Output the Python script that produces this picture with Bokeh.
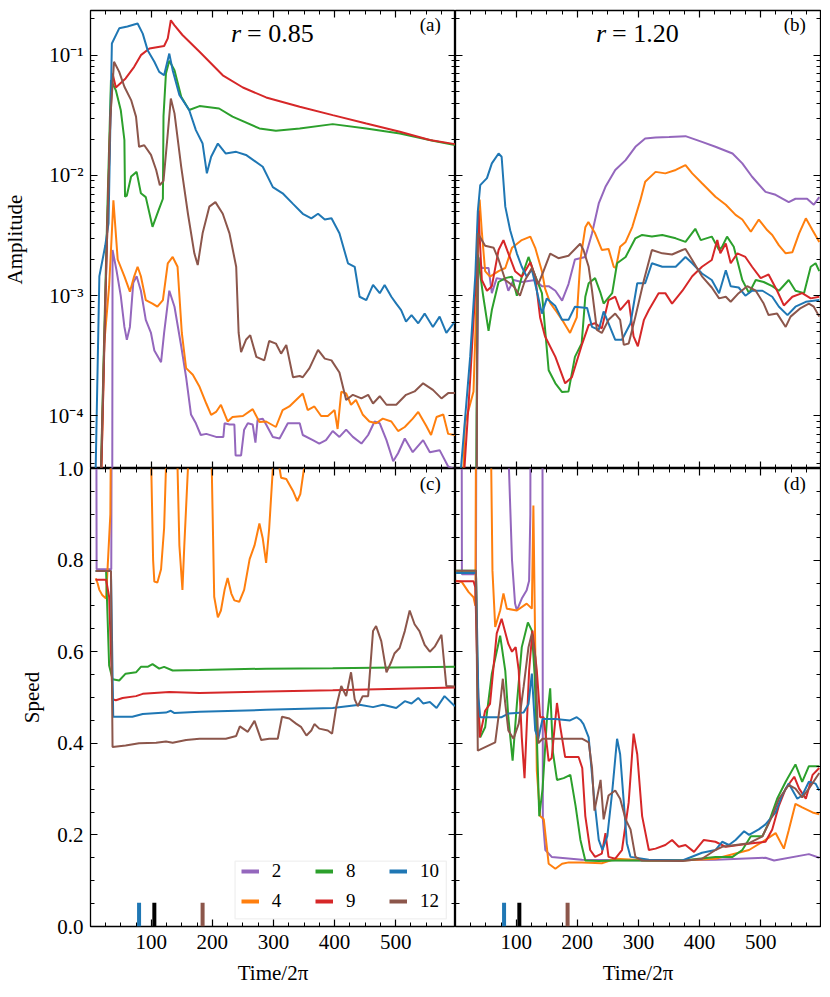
import numpy as np
from bokeh.plotting import figure
from bokeh.models import (LinearAxis, LogAxis, SingleIntervalTicker, LogTicker,
                          CustomJSTickFormatter, PrintfTickFormatter, Range1d,
                          Label, Legend, LegendItem, BoxAnnotation)
from bokeh.layouts import column, row
from bokeh.embed import file_html
from bokeh.resources import INLINE

FONT = "'Liberation Serif', serif"
OFF = 1.6  # speed value beyond the top of the axis

modes = ["2", "4", "8", "9", "10", "12"]
mode_colors = ["#9467bd", "#ff7f0e", "#2ca02c", "#d62728", "#1f77b4", "#8c564b"]

r_values = ["0.85", "1.20"]
panel_letters = ["(a)", "(b)", "(c)", "(d)"]

marker_times = [80, 105, 184]
marker_colors = ["#1f77b4", "#000000", "#8c564b"]
marker_height = 0.052

# ---------------- (a) amplitude, r = 0.85 : (time/2pi, amplitude)
a_n2 = [(1, 1e-7), (35.8, 1e-6), (36.6, 2.4e-3), (43, 1.63e-3), (50, 1.0e-3), (56, 5.5e-4), (60, 4.3e-4),
        (65, 5.5e-4), (70.5, 1.28e-3), (76, 1.45e-3), (83, 1.1e-3), (91, 6.3e-4), (99.5, 4.9e-4), (105, 3.5e-4),
        (116, 2.8e-4), (121, 4.9e-4), (129.5, 1.1e-3), (138, 8.1e-4), (149, 3.8e-4), (157, 2.1e-4), (165, 1.03e-4),
        (173, 8.7e-5), (181, 6.95e-5), (190, 7.1e-5), (206, 6.7e-5), (218, 6.7e-5), (220, 8.7e-5), (228, 8.5e-5),
        (236, 8.5e-5), (238, 4.7e-5), (247, 4.7e-5), (252, 7.7e-5), (258, 8.7e-5), (266, 8.5e-5), (270.5, 6e-5),
        (274, 9.3e-5), (282.5, 9.5e-5), (288, 8.5e-5), (299, 6.7e-5), (310, 6.5e-5), (323.5, 8.7e-5), (343, 8.7e-5),
        (348, 6.95e-5), (364.5, 6.3e-5), (375, 5.9e-5), (386, 6.3e-5), (397, 7.5e-5), (408, 6.7e-5), (419, 7.7e-5),
        (430, 6.7e-5), (444, 5.9e-5), (455, 6.95e-5), (465.5, 9e-5), (474, 8.7e-5), (485, 6.3e-5), (496, 4.2e-5),
        (504, 4.9e-5), (515, 6.5e-5), (528, 5e-5), (545, 6.3e-5), (556, 5e-5), (572, 5.2e-5), (586, 3.8e-5),
        (597, 3.6e-5)]
a_n4 = [(1, 1e-7), (15, 1e-5), (20, 8e-5), (23, 4e-4), (31, 1.2e-3), (35, 3e-3), (38, 6.2e-3), (45, 2e-3),
        (56, 1.45e-3), (65, 1.08e-3), (72, 1.45e-3), (77.6, 1.74e-3), (83, 1.45e-3), (91, 9.2e-4), (102, 8.6e-4),
        (110, 8.1e-4), (119, 9.2e-4), (127, 1.86e-3), (135, 2.1e-3), (143, 1.74e-3), (150, 4.9e-4), (157, 2.5e-4),
        (168, 2.2e-4), (179, 1.75e-4), (190, 1.27e-4), (198, 1.02e-4), (206, 1.08e-4), (214, 1.24e-4), (225, 9e-5),
        (233, 9.8e-5), (250, 1.0e-4), (266, 1.14e-4), (277, 8.9e-5), (288, 9e-5), (304, 8.1e-5), (315, 1.12e-4),
        (326, 1.2e-4), (337, 1.36e-4), (348, 1.54e-4), (356, 1.12e-4), (367, 1.2e-4), (378, 1.0e-4), (389, 1.0e-4),
        (400, 1.12e-4), (405, 7.8e-5), (411, 1.59e-4), (419, 1.54e-4), (427, 1.24e-4), (435, 1.36e-4),
        (446, 1.03e-4), (457, 9e-5), (468, 8.7e-5), (479, 9.5e-5), (493, 9e-5), (504, 7.5e-5), (515, 8.1e-5),
        (528, 9.5e-5), (537, 1.08e-4), (550, 8.3e-5), (558, 6.95e-5), (567, 9.8e-5), (578, 1.03e-4), (586, 7.1e-5),
        (597, 6.95e-5)]
a_n8 = [(1, 1e-7), (15, 1e-5), (22, 3e-4), (28, 5e-3), (34, 0.062), (42, 0.051), (50, 0.035), (56, 0.0197),
        (57, 0.00665), (60, 0.0068), (67, 0.0098), (76, 0.0107), (83, 0.0071), (91, 0.0066), (102, 0.00374),
        (112, 0.00515), (119, 0.0064), (120, 0.031), (124, 0.0705), (129.5, 0.0897), (138, 0.075), (149, 0.045),
        (162, 0.035), (179, 0.0377), (211, 0.036), (233, 0.0308), (277, 0.0246), (304, 0.0235), (343, 0.0246),
        (397, 0.0267), (452, 0.0246), (507, 0.0223), (561, 0.0194), (597, 0.0179)]
a_n9 = [(1, 1e-7), (12, 1e-6), (18, 3e-5), (26, 1.5e-3), (33, 0.03), (36.6, 0.0705), (42, 0.0538), (58, 0.064),
        (72, 0.080), (83, 0.100), (97, 0.1135), (121, 0.119), (127, 0.138), (132, 0.195), (138, 0.177),
        (151, 0.147), (179, 0.1066), (217, 0.068), (250, 0.0538), (288, 0.0445), (343, 0.0372), (397, 0.0317),
        (452, 0.027), (507, 0.0231), (556, 0.0197), (597, 0.0182)]
a_n10 = [(1, 1e-6), (9, 3.7e-5), (15, 1.45e-3), (24.6, 2.6e-3), (30, 4e-3), (35.5, 0.125), (47.5, 0.167),
         (61, 0.173), (77.6, 0.183), (86, 0.151), (94, 0.110), (105, 0.088), (113, 0.0726), (121, 0.068),
         (129.5, 0.103), (135, 0.075), (146, 0.0466), (162, 0.035), (173, 0.0238), (184, 0.0184), (191, 0.0104),
         (198, 0.0143), (209, 0.0184), (222, 0.0152), (239, 0.0157), (255, 0.0148), (282.5, 0.0118), (299, 0.008),
         (315, 0.0071), (332, 0.0058), (348, 0.0048), (362, 0.0044), (373, 0.0048), (384, 0.0043), (395, 0.0044),
         (408, 0.0033), (422, 0.00186), (433, 0.00174), (441, 9.8e-4), (452, 9.2e-4), (463, 1.23e-3),
         (474, 1.05e-3), (482, 1.23e-3), (493, 9.8e-4), (501, 8.6e-4), (509, 7.6e-4), (517, 6.1e-4), (526, 6.9e-4),
         (537, 5.9e-4), (547.5, 7.1e-4), (561, 5.5e-4), (572, 6.7e-4), (583, 4.9e-4), (597, 6.1e-4)]
a_n12 = [(1, 1e-7), (15, 1e-5), (25, 1e-3), (33, 0.03), (39, 0.088), (47.5, 0.0726), (56, 0.0546), (67, 0.0423),
         (75, 0.0308), (80, 0.0173), (88.5, 0.0178), (99.5, 0.0148), (108, 0.0111), (114, 0.0083), (120, 0.009),
         (127, 0.0223), (132, 0.0436), (138, 0.0328), (149, 0.0118), (160, 0.0048), (170.5, 2.25e-3),
         (176, 1.8e-3), (184, 3.3e-3), (195, 5.5e-3), (205, 6.0e-3), (217, 4.8e-3), (228, 3.3e-3), (239, 1.74e-3),
         (243, 4.9e-4), (247, 3.4e-4), (255, 4.3e-4), (262, 4.7e-4), (272, 3.1e-4), (285, 2.9e-4), (293, 4.2e-4),
         (304, 4.0e-4), (312.5, 3.3e-4), (321, 3.9e-4), (332, 2.1e-4), (343, 2.15e-4), (348, 2.1e-4),
         (359, 2.5e-4), (373, 3.55e-4), (384, 3.0e-4), (395, 2.9e-4), (408, 2.3e-4), (419, 1.36e-4), (430, 1.5e-4),
         (444, 1.4e-4), (455, 1.5e-4), (463, 1.27e-4), (474, 1.46e-4), (485, 1.24e-4), (501, 1.24e-4),
         (517, 1.5e-4), (531, 1.6e-4), (545, 1.87e-4), (561, 1.65e-4), (575, 1.4e-4), (586, 1.55e-4),
         (597, 1.55e-4)]

# ---------------- (b) amplitude, r = 1.20
b_n2 = [(1, 1e-7), (34.5, 1e-6), (35.5, 1e-4), (38, 2.1e-3), (43.6, 1.7e-3), (54.6, 1.7e-3), (60, 1.05e-3),
        (68, 1.4e-3), (82, 1.35e-3), (87, 1.1e-3), (95.5, 1.35e-3), (109, 1.3e-3), (131, 1.35e-3), (142, 1.2e-3),
        (153, 1.2e-3), (164, 1.1e-3), (175, 9.1e-4), (185.5, 1.25e-3), (196, 2.0e-3), (213, 2.1e-3),
        (224, 3.3e-3), (235, 5.85e-3), (246, 8.05e-3), (262, 0.0111), (279, 0.0134), (295, 0.0173),
        (311, 0.0203), (328, 0.0207), (350, 0.0209), (377, 0.0212), (404, 0.019), (426, 0.0173), (454, 0.0152),
        (470, 0.0126), (486, 0.00975), (508, 0.0073), (524.5, 0.0069), (546, 0.006), (557, 0.0064),
        (576, 0.0064), (587, 0.0057), (596, 0.0066)]
b_n4 = [(1, 1e-7), (10, 1e-5), (16, 8.7e-5), (30, 1.6e-4), (35, 1e-3), (40, 6.3e-3), (43.6, 3.4e-3), (49, 1.6e-3),
        (57, 1.44e-3), (71, 1.6e-3), (82, 1.7e-3), (93, 2.5e-3), (109, 2.9e-3), (123, 3.1e-3), (131, 2.5e-3),
        (142, 1.6e-3), (147, 1.15e-3), (155.5, 8.7e-4), (164, 7.6e-4), (175, 6.3e-4), (188, 4.9e-4),
        (199, 6.6e-4), (205, 2.0e-3), (213, 3.7e-3), (218, 4.1e-3), (229, 3.3e-3), (240, 2.4e-3), (251, 2.45e-3),
        (259.5, 1.74e-3), (263, 1.7e-3), (270, 2.55e-3), (279, 2.8e-3), (290, 3.74e-3), (303, 6.2e-3),
        (311, 8.85e-3), (328, 0.0107), (344, 0.0104), (361, 0.0111), (377, 0.0122), (388, 0.0104), (404, 8.6e-3),
        (426, 6.65e-3), (443, 5.7e-3), (459, 4.7e-3), (470, 4.3e-3), (484, 3.4e-3), (497, 4.3e-3), (511, 3.5e-3),
        (519, 3.2e-3), (530, 2.62e-3), (541, 2.25e-3), (552, 2.3e-3), (563, 3.3e-3), (574, 4.4e-3),
        (585, 3.5e-3), (596, 2.8e-3)]
b_n8 = [(1, 1e-7), (33, 1e-6), (35, 1e-4), (37, 2.2e-3), (41, 1.5e-3), (46, 9.8e-4), (54.6, 5.1e-4),
        (60, 7.6e-4), (71, 1.3e-3), (82, 1.4e-3), (93, 1.44e-3), (101, 1.0e-3), (109, 1.44e-3), (120, 2.1e-3),
        (128, 1.6e-3), (142, 1.05e-3), (153, 2.4e-4), (164, 1.87e-4), (175, 1.58e-4), (185.5, 1.6e-4),
        (196, 3.1e-4), (207, 4.0e-4), (213, 9.8e-4), (218.5, 1.27e-3), (229, 1.4e-3),
        (238, 1.05e-3), (243, 8.6e-4), (257, 1.05e-3), (265, 1.86e-3), (279, 2.1e-3), (295, 3.0e-3),
        (306, 3.2e-3), (322, 3.1e-3), (339, 3.2e-3), (361, 3.0e-3), (377, 2.8e-3), (393, 3.6e-3), (402, 2.9e-3),
        (420, 3.1e-3), (432, 2.4e-3), (437, 2.55e-3), (445, 3.1e-3), (456, 2.55e-3), (470, 1.35e-3),
        (481, 1.05e-3), (492, 1.35e-3), (505, 1.3e-3), (519, 1.2e-3), (530, 1.1e-3), (546, 1.35e-3),
        (557, 1.1e-3), (571, 1.05e-3), (582, 1.74e-3), (590, 1.86e-3), (596, 1.6e-3)]
b_n9 = [(1, 1e-6), (14, 3e-5), (24.5, 2e-4), (35.5, 1.9e-3), (38, 5.1e-3), (43.6, 1.35e-3), (52, 1.1e-3),
        (60, 1.2e-3), (71, 2.4e-3), (79, 2.9e-3), (87, 2.25e-3), (98, 1.6e-3), (109, 1.44e-3), (123, 1.9e-3),
        (131, 1.44e-3), (139, 6.6e-4), (147, 4.6e-4), (164, 3.1e-4), (180, 1.87e-4), (191, 2.1e-4),
        (208, 4.0e-4), (218.5, 5.7e-4),
        (229, 5.9e-4), (240, 5.35e-4), (251, 9.2e-4), (262, 9.8e-4), (270, 7.6e-4), (284, 9.2e-4), (292, 4.6e-4),
        (299, 3.8e-4), (309, 6.3e-4), (317, 7.6e-4), (333, 1.05e-3), (344, 1.05e-3), (355, 8.6e-4),
        (372, 1.1e-3), (388, 1.45e-3), (404, 1.74e-3), (420, 1.98e-3), (429, 2.9e-3), (434, 2.25e-3),
        (443, 2.72e-3), (451, 1.86e-3), (462, 2.25e-3), (475, 2.1e-3), (486, 1.74e-3), (500, 1.4e-3),
        (513, 1.5e-3), (527, 1.1e-3), (538, 8.3e-4), (552, 9.8e-4), (568, 1.05e-3), (582, 9.5e-4),
        (596, 9.8e-4)]
b_n10 = [(1, 1e-6), (8, 3e-5), (16, 9.3e-5), (24.5, 3.1e-4), (33, 1.5e-3), (37, 5e-3), (41, 8.3e-3), (52, 9.5e-3),
         (60, 0.0126), (71, 0.0152), (76, 0.0143), (82, 5.5e-3), (90, 3.5e-3), (101, 2.24e-3), (109, 1.74e-3),
         (117, 1.44e-3), (125.5, 1.65e-3), (133.6, 1.1e-3), (142, 7.1e-4), (150, 9.5e-4),
         (164, 8.2e-4), (175, 6.3e-4), (185.5, 6.3e-4), (196, 8.1e-4), (216, 7.9e-4), (224, 5.5e-4),
         (235, 5.2e-4), (243, 7.4e-4), (251, 5.9e-4), (262, 4.3e-4), (273, 4.3e-4), (287, 5.9e-4),
         (298, 1.27e-3), (311, 1.27e-3), (322, 1.86e-3), (339, 1.74e-3), (361, 1.74e-3), (377, 2.1e-3),
         (388, 1.86e-3), (404, 1.53e-3), (420, 1.35e-3), (432, 1.05e-3), (443, 1.63e-3), (451, 1.2e-3),
         (464, 1.17e-3), (475, 1.0e-3), (486, 1.1e-3), (503, 1.1e-3), (519, 9.8e-4), (530, 8.1e-4),
         (544, 6.9e-4), (557, 8.1e-4), (574, 8.9e-4), (596, 9.2e-4)]
b_n12 = [(1, 1e-7), (34.5, 1e-6), (35.5, 1e-4), (37, 3.3e-3), (49, 2.6e-3), (63, 2.5e-3), (71, 2.0e-3),
         (82, 1.35e-3), (95.5, 1.2e-3), (106, 1.0e-3), (114.5, 1.35e-3), (125.5, 1.7e-3), (136, 1.25e-3),
         (144.6, 1.6e-3), (155.5, 2.24e-3), (169, 2.05e-3), (185.5, 2.15e-3), (204.6, 2.7e-3),
         (210, 2.4e-3), (218.5, 1.74e-3), (224, 1.1e-3), (232, 5.2e-4), (240, 4.9e-4),
         (251, 6.3e-4), (262, 7.1e-4), (270, 6.3e-4), (276, 3.9e-4), (284, 4.0e-4), (295, 6.7e-4),
         (309, 1.35e-3), (322, 2.4e-3), (339, 2.25e-3), (355, 2.2e-3), (372, 2.4e-3), (377, 2.45e-3),
         (388, 1.98e-3), (404, 1.45e-3), (420, 1.17e-3), (432, 9.5e-4), (443, 9.8e-4), (451, 8.9e-4),
         (464, 1.05e-3), (478, 1.2e-3), (492, 1.1e-3), (505, 8.6e-4), (513, 6.9e-4), (527, 7.1e-4),
         (541, 5.5e-4), (549, 6.7e-4), (565.5, 7.9e-4), (579, 8.6e-4), (587, 8.1e-4), (596, 6.7e-4)]

# ---------------- (c) speed, r = 0.85
c_n2 = [(9.5, OFF), (10.5, 0.78), (34.5, 0.78), (36, OFF), (597, OFF)]
c_n4 = [(9, 0.76), (12, 0.75), (15, 0.735), (20, 0.723), (26, 0.716), (28, 0.77), (33, 0.9), (36.6, OFF),
        (97, OFF), (100, 1.0), (103, 0.8), (105, 0.753), (110, 0.751), (116, 0.78), (121, 0.87), (124, 1.0),
        (126, OFF), (140, OFF), (143, 1.0), (146, 0.832), (151, 0.735), (154, 0.83), (160, 1.0), (162, OFF),
        (196, OFF), (199, 1.0), (203, 0.72), (209, 0.675), (214, 0.69), (220, 0.735), (225, 0.761), (231, 0.727),
        (236, 0.712), (244, 0.709), (252, 0.735), (261, 0.802), (269, 0.832), (277, 0.88), (282.5, 0.847),
        (288, 0.794), (293, 0.869), (299, 1.0), (302, OFF), (309, OFF), (310, 1.0), (312.5, 0.98), (321, 0.977),
        (332, 0.951), (339, 0.929), (344, 0.944), (350, 1.0), (352, OFF), (597, OFF)]
c_n8 = [(9, 0.776), (26, 0.776), (31, 0.57), (36.6, 0.54), (47.5, 0.537), (58, 0.552), (75, 0.555), (83, 0.567),
        (94, 0.567), (102, 0.573), (113, 0.563), (121, 0.567), (135, 0.559), (179, 0.56), (288, 0.563),
        (397, 0.564), (597, 0.567)]
c_n9 = [(9, 0.757), (26, 0.757), (31, 0.72), (36.6, 0.496), (42, 0.494), (53, 0.499), (75, 0.503), (86, 0.508),
        (129.5, 0.512), (179, 0.51), (397, 0.516), (597, 0.522)]
c_n10 = [(9, 0.776), (34, 0.776), (37.7, 0.458), (69, 0.458), (86, 0.464), (124, 0.467), (132, 0.471),
         (138, 0.466), (179, 0.469), (288, 0.473), (397, 0.477), (441, 0.484), (463, 0.479), (479, 0.484),
         (501, 0.477), (515, 0.492), (526, 0.487), (537, 0.499), (545, 0.487), (556, 0.49), (567, 0.477),
         (580, 0.503), (597, 0.481)]
c_n12 = [(9, 0.776), (34, 0.776), (36.6, 0.392), (58, 0.395), (80, 0.4), (108, 0.401), (124, 0.404), (135, 0.401),
         (157, 0.407), (179, 0.41), (222, 0.41), (239, 0.416), (245, 0.437), (258, 0.425), (269, 0.449),
         (280, 0.407), (293, 0.41), (307, 0.41), (314, 0.458), (326, 0.454), (337, 0.443), (345, 0.436),
         (354, 0.417), (362, 0.428), (367, 0.442), (375, 0.432), (389, 0.428), (396, 0.421), (403, 0.481),
         (411, 0.525), (419, 0.503), (427, 0.555), (433, 0.496), (438, 0.481), (446, 0.503), (455, 0.503),
         (463, 0.645), (468, 0.656), (476.5, 0.623), (485, 0.555), (493, 0.578), (498, 0.596), (506.5, 0.608),
         (515, 0.645), (523, 0.69), (531, 0.66), (539, 0.645), (547.5, 0.615), (556, 0.6), (564, 0.611),
         (575, 0.637), (583, 0.525), (597, 0.524)]

# ---------------- (d) speed, r = 1.20
d_n2 = [(1, OFF), (10, OFF), (11, 0.769), (34, 0.769), (35.5, OFF), (86, OFF), (88, 1.0), (93, 0.8), (98, 0.705),
        (101, 0.69), (109, 0.716), (117, 0.734), (121, 0.755), (123, 0.9), (124, OFF), (142.5, OFF),
        (143.5, 0.234), (147.5, 0.167), (158, 0.152), (207.5, 0.146), (317, 0.144), (426, 0.146), (508, 0.15),
        (522, 0.144), (579, 0.158), (596, 0.15)]
d_n4 = [(1, 0.755), (11, 0.752), (22, 0.73), (30, 0.719), (33, 0.70), (35.5, OFF), (57, OFF), (59, 1.0),
        (61, 0.777), (65.5, 0.654), (73.6, 0.69), (79, 0.727), (84.5, 0.694), (101, 0.69), (117, 0.705),
        (125.5, 0.694), (128, 0.919), (131.5, 0.559), (133.6, 0.34), (139, 0.241),
        (145, 0.234), (153, 0.137), (164, 0.126), (175, 0.137), (186, 0.14), (207.5, 0.14), (240, 0.138),
        (262, 0.148), (317, 0.144), (372, 0.144), (426, 0.148), (481, 0.167), (508, 0.189), (524.5, 0.204),
        (538, 0.17), (546, 0.21), (557, 0.268), (568, 0.26), (585, 0.249), (596, 0.245)]
d_n8 = [(1, 0.777), (34, 0.777), (37, 0.5), (41, 0.413), (49, 0.435), (60, 0.552), (73.6, 0.635), (82, 0.558),
        (87, 0.457), (94, 0.362), (101, 0.486), (109, 0.61), (119, 0.664), (125.5, 0.646), (130, 0.55),
        (134, 0.4), (137.6, 0.241), (143, 0.3), (150, 0.45), (155.5, 0.52),
        (160, 0.38), (166.6, 0.32), (177.6, 0.324), (188.5, 0.331), (197, 0.264), (205, 0.189), (213, 0.144),
        (235, 0.143), (262, 0.144), (317, 0.144), (372, 0.144), (426, 0.152), (454, 0.152), (470, 0.167),
        (484, 0.197), (503, 0.197), (513, 0.226), (527, 0.279), (541, 0.316), (557, 0.354), (568, 0.316),
        (579, 0.35), (596, 0.35)]
d_n9 = [(1, 0.754), (30, 0.754), (33, 0.74), (35.5, 0.6), (40, 0.413), (49, 0.471), (57, 0.486), (68, 0.64),
        (76, 0.672), (87, 0.617), (93, 0.6), (99, 0.61), (104, 0.559), (109, 0.413), (113.5, 0.324),
        (121, 0.559), (126.5, 0.646), (133.6, 0.559), (139, 0.457), (144.6, 0.457), (148.6, 0.413),
        (153, 0.361), (158, 0.368), (166.6, 0.488), (172, 0.436), (180, 0.37), (202, 0.37), (208, 0.346),
        (213, 0.241), (221, 0.167), (229, 0.152), (240, 0.159), (246, 0.204), (251, 0.152), (262, 0.148),
        (273, 0.167), (284, 0.271), (292, 0.421), (298, 0.376), (306, 0.241), (317, 0.167), (328, 0.17),
        (344, 0.178), (355, 0.189), (366, 0.174), (377, 0.178), (391, 0.163), (407, 0.189), (426, 0.185),
        (443, 0.174), (464, 0.178), (486, 0.182), (508, 0.185), (519, 0.212), (530, 0.264), (541, 0.301),
        (555, 0.327), (563, 0.301), (574, 0.279), (585, 0.331), (596, 0.346)]
d_n10 = [(1, 0.772), (34, 0.772), (38, 0.5), (41, 0.457), (76, 0.457), (87, 0.465), (112, 0.467), (120, 0.486),
         (125.5, 0.552), (131, 0.428), (136, 0.41), (143, 0.453), (164, 0.453), (188, 0.45), (199, 0.457),
         (205, 0.451), (210, 0.442), (218.5, 0.413), (227, 0.286), (235, 0.189), (241, 0.167), (249, 0.197),
         (257, 0.294), (265, 0.41), (270, 0.376), (276, 0.271), (281, 0.182), (287, 0.152), (317, 0.146),
         (372, 0.144), (404, 0.161), (426, 0.167), (437, 0.185), (448, 0.178), (459, 0.189), (473, 0.208),
         (481, 0.2), (497, 0.212), (508, 0.223), (524.5, 0.249), (535, 0.286), (546, 0.312), (560, 0.279),
         (568, 0.286), (579, 0.316), (590, 0.312), (596, 0.297)]
d_n12 = [(1, 0.777), (34, 0.777), (37, 0.384), (65.5, 0.402), (73.6, 0.486), (78, 0.541), (82, 0.486),
         (87, 0.428), (95.5, 0.41), (104, 0.443), (112, 0.523), (120, 0.61), (125.5, 0.64), (131, 0.588),
         (136, 0.4), (143, 0.41), (207.5, 0.41), (218.5, 0.402), (224, 0.346),
         (228, 0.253), (238, 0.32), (243, 0.234), (251, 0.286), (262, 0.297), (270, 0.279), (279, 0.234),
         (287, 0.212), (295, 0.152), (306, 0.144), (372, 0.143), (404, 0.148), (426, 0.167), (437, 0.174),
         (459, 0.178), (481, 0.182), (503, 0.197), (519, 0.241), (530, 0.279), (546, 0.309), (557, 0.301),
         (568, 0.282), (579, 0.301), (596, 0.335)]

amp_085 = [a_n2, a_n4, a_n8, a_n9, a_n10, a_n12]
amp_120 = [b_n2, b_n4, b_n8, b_n9, b_n10, b_n12]
spd_085 = [c_n2, c_n4, c_n8, c_n9, c_n10, c_n12]
spd_120 = [d_n2, d_n4, d_n8, d_n9, d_n10, d_n12]

# ---------------- layout constants
FW = 365
FH = 458
LEFT_B = 90
TOP_B = 10
OVER = 16
X0, X1 = 0.5, 598
AMP_LO, AMP_HI = 3.66e-5, 0.235

SUP_JS = """
const e = Math.round(Math.log10(tick));
const sup = {"-": "\\u207b", "0": "\\u2070", "1": "\\u00b9", "2": "\\u00b2", "3": "\\u00b3",
             "4": "\\u2074", "5": "\\u2075", "6": "\\u2076", "7": "\\u2077", "8": "\\u2078", "9": "\\u2079"};
return "10" + String(e).split("").map(c => sup[c]).join("");
"""


def style_axis(ax, labelled):
    ax.major_tick_in = 7
    ax.major_tick_out = 0
    ax.minor_tick_in = 4
    ax.minor_tick_out = 0
    ax.major_tick_line_width = 1.2
    ax.minor_tick_line_width = 1
    ax.major_tick_line_color = "black"
    ax.minor_tick_line_color = "black"
    ax.axis_line_color = None
    ax.major_label_text_font = FONT
    ax.major_label_text_color = "black"
    ax.major_label_text_font_size = "21px"
    ax.axis_label_text_font = FONT
    ax.axis_label_text_font_size = "21px"
    ax.axis_label_text_font_style = "normal"
    ax.axis_label_text_color = "black"
    if not labelled:
        ax.formatter = CustomJSTickFormatter(code="return ''")
        ax.major_label_text_font_size = "0px"
        ax.major_label_standoff = 0


def x_axis(labelled):
    ax = LinearAxis(ticker=SingleIntervalTicker(interval=100, num_minor_ticks=4))
    style_axis(ax, labelled)
    if labelled:
        ax.major_label_standoff = 8
    return ax


def y_axis(log, labelled):
    if log:
        ax = LogAxis(ticker=LogTicker(num_minor_ticks=10))
        if labelled:
            ax.formatter = CustomJSTickFormatter(code=SUP_JS)
    else:
        ax = LinearAxis(ticker=SingleIntervalTicker(interval=0.2, num_minor_ticks=4))
        if labelled:
            ax.formatter = PrintfTickFormatter(format="%.1f")
    style_axis(ax, labelled)
    if labelled:
        ax.major_label_standoff = 7
    return ax


def make_panel(log, left_col, bottom_row, series):
    p = figure(frame_width=FW, frame_height=FH,
               x_range=Range1d(X0, X1),
               y_range=Range1d(AMP_LO, AMP_HI) if log else Range1d(0, 1),
               y_axis_type="log" if log else "linear",
               x_axis_location=None, y_axis_location=None,
               output_backend="svg", toolbar_location=None,
               min_border_left=LEFT_B if left_col else 0,
               min_border_right=0 if left_col else 1,
               min_border_top=TOP_B if log else OVER,
               min_border_bottom=0 if log else 50,
               background_fill_color="white",
               border_fill_alpha=0 if not log else 1.0,
               border_fill_color="white",
               outline_line_color="black", outline_line_width=1.3)
    p.xgrid.visible = False
    p.ygrid.visible = False
    xb = x_axis(bottom_row)
    if bottom_row:
        xb.axis_label = "Time/2π"
        xb.axis_label_standoff = 9
    p.add_layout(xb, "below")
    p.add_layout(x_axis(False), "above")
    yl = y_axis(log, left_col)
    if left_col:
        yl.axis_label = "Amplitude" if log else "Speed"
        yl.axis_label_standoff = 18 if log else 10
    p.add_layout(yl, "left")
    p.add_layout(y_axis(log, False), "right")
    for pts, c in zip(series, mode_colors):
        t = [q[0] for q in pts]
        v = [q[1] for q in pts]
        p.line(t, v, line_color=c, line_width=2)
    return p


fa = make_panel(True, True, False, amp_085)
fb = make_panel(True, False, False, amp_120)
fc = make_panel(False, True, True, spd_085)
fd = make_panel(False, False, True, spd_120)

# titles and panel letters
for p, rv in ((fa, r_values[0]), (fb, r_values[1])):
    p.add_layout(Label(x=(X0 + X1) / 2, y=0.151, text="r", x_offset=-32, text_align="right",
                       text_baseline="middle", text_font=FONT, text_font_size="26px",
                       text_font_style="italic", text_color="black"))
    p.add_layout(Label(x=(X0 + X1) / 2, y=0.151, text="= " + rv, x_offset=-26, text_align="left",
                       text_baseline="middle", text_font=FONT, text_font_size="26px",
                       text_color="black"))
for p, lt, yy in ((fa, panel_letters[0], 0.18), (fb, panel_letters[1], 0.18),
                  (fc, panel_letters[2], 0.967), (fd, panel_letters[3], 0.967)):
    p.add_layout(Label(x=574, y=yy, text=lt, text_align="right", text_baseline="middle",
                       text_font=FONT, text_font_size="19px", text_color="black"))

# markers at the bottom of the speed panels
for p in (fc, fd):
    p.segment(x0=marker_times, y0=[0] * len(marker_times), x1=marker_times,
              y1=[marker_height] * len(marker_times), line_color=marker_colors,
              line_width=4, line_cap="butt")

# legend in panel (c)
fc.add_layout(BoxAnnotation(left=237.2, right=583.0, bottom=0.0168, top=0.1426,
                            fill_color="white", fill_alpha=0.8, line_color="#cccccc",
                            line_width=1.3))
dummies = [fc.line([np.nan, np.nan], [np.nan, np.nan], line_color=c, line_width=4)
           for c in mode_colors]
for ci in range(3):
    items = [LegendItem(label=modes[2 * ci + k], renderers=[dummies[2 * ci + k]]) for k in range(2)]
    leg = Legend(items=items, location=(150.7 + 74.2 * ci, 14.3), orientation="vertical",
                 glyph_width=18, glyph_height=20, label_height=20, label_width=10,
                 label_standoff=13, spacing=8, padding=0, margin=0,
                 border_line_color=None, background_fill_alpha=0,
                 label_text_font=FONT, label_text_font_size="19px", label_text_color="black")
    fc.add_layout(leg)

layout = column(row(fa, fb, spacing=0), row(fc, fd, spacing=0, margin=(-OVER, 0, 0, 0)), spacing=0)

with open("out.html", "w") as f:
    f.write(file_html(layout, INLINE, title="Amplitude and speed"))
